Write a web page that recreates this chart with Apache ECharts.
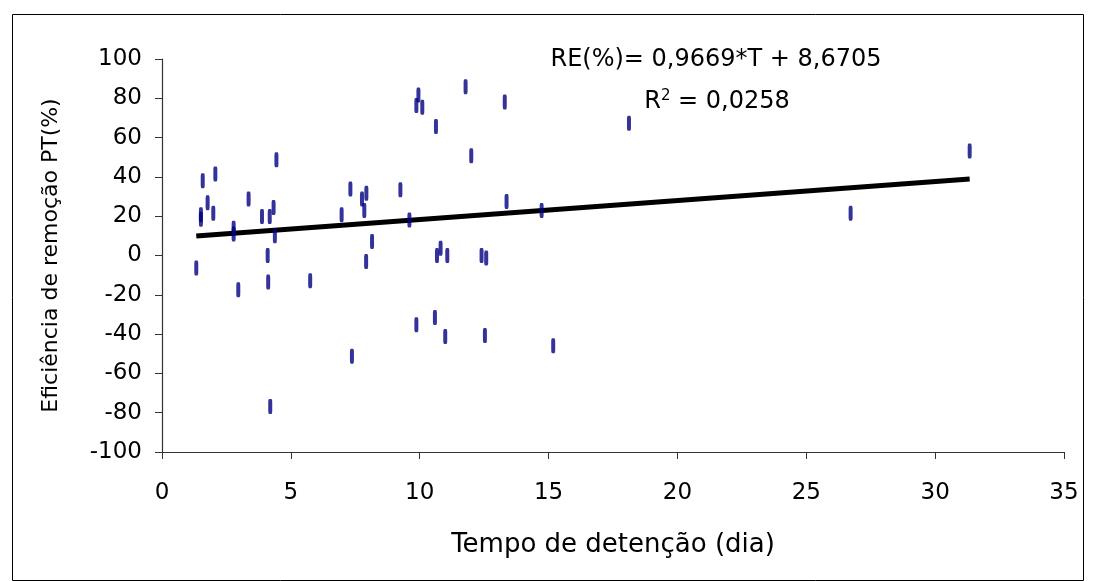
<!DOCTYPE html>
<html>
<head>
<meta charset="utf-8">
<script src="https://cdn.jsdelivr.net/npm/echarts@6/dist/echarts.min.js"></script>
<style>
html,body{margin:0;padding:0;background:#fff;}
#chart{width:1093px;height:581px;}
</style>
</head>
<body>
<div id="chart"></div>
<script>
// Tempo de detenção (dia)
const tempo = [1.33,1.51,1.51,1.58,1.77,1.99,2.07,2.78,2.78,2.96,3.36,3.88,4.10,4.12,4.18,4.20,4.33,4.38,4.44,5.75,6.97,7.31,7.37,7.76,7.85,7.92,7.93,8.15,9.25,9.60,9.87,9.87,9.95,10.10,10.59,10.63,10.67,10.81,10.99,11.07,11.78,12.00,12.40,12.53,12.58,13.30,13.37,14.73,15.18,18.12,26.72,31.34];
// Eficiência de remoção PT (%)
const eficiencia = [-6.4,20.7,18.5,38.1,26.9,21.5,41.5,13.9,11.0,-17.4,28.8,19.8,0.0,-13.5,19.8,-76.8,24.4,10.0,48.7,-12.9,20.7,33.8,-51.3,28.7,22.9,-3.0,31.7,7.1,33.4,18.1,76.3,-35.2,81.7,75.4,-31.5,65.6,0.0,3.7,-41.2,0.0,85.9,50.7,0.0,-40.7,-1.3,78.1,27.5,22.9,-45.9,67.3,21.5,53.2];
// Trend line coefficients (from equation)
const slope = 0.9669;
const intercept = 8.6705;
const xTicks = {min: 0, max: 35, interval: 5};
const yTicks = {min: -100, max: 100, interval: 20};
const eqText = 'RE(%)= 0,9669*T + 8,6705';
const r2Text = '0,0258';

const points = tempo.map((t, i) => [t, eficiencia[i]]);
const xMin = Math.min(...tempo), xMax = Math.max(...tempo);
const trend = [[xMin, slope * xMin + intercept], [xMax, slope * xMax + intercept]];

const chart = echarts.init(document.getElementById('chart'), null, {renderer: 'canvas'});
const font = 'DejaVu Sans, Verdana, sans-serif';
chart.setOption({
  animation: false,
  backgroundColor: '#ffffff',
  grid: {left: 162, right: 29, top: 59, bottom: 129, containLabel: false},
  xAxis: {
    type: 'value', min: xTicks.min, max: xTicks.max, interval: xTicks.interval,
    name: 'Tempo de detenção (dia)', nameLocation: 'middle', nameGap: 80,
    nameTextStyle: {fontFamily: font, fontSize: 26, color: '#000'},
    axisLine: {show: true, onZero: false, lineStyle: {color: '#333', width: 1.2}},
    axisTick: {show: true, inside: false, length: 7, lineStyle: {color: '#333'}},
    axisLabel: {fontFamily: font, fontSize: 23, color: '#000', margin: 30},
    splitLine: {show: false}
  },
  yAxis: {
    type: 'value', min: yTicks.min, max: yTicks.max, interval: yTicks.interval,
    name: 'Eficiência de remoção PT(%)', nameLocation: 'middle', nameGap: 100,
    nameTextStyle: {fontFamily: font, fontSize: 22, color: '#000'},
    axisLine: {show: true, onZero: false, lineStyle: {color: '#333', width: 1.2}},
    axisTick: {show: true, inside: false, length: 7, lineStyle: {color: '#333'}},
    axisLabel: {fontFamily: font, fontSize: 23, color: '#000', margin: 20},
    splitLine: {show: false}
  },
  graphic: [
    {type: 'rect', left: 10, top: 12, shape: {width: 1071, height: 566},
     style: {fill: 'none', stroke: '#000', lineWidth: 1}, z: -1},
    {type: 'text', x: 716, y: 60,
     style: {text: eqText, font: '24px ' + font, fill: '#000', align: 'center', verticalAlign: 'middle'}},
    {type: 'text', x: 717, y: 102,
     style: {
       text: '{r|R}{s|2}{r| = ' + r2Text + '}',
       align: 'center', verticalAlign: 'middle',
       rich: {
         r: {fontFamily: font, fontSize: 24, color: '#000'},
         s: {fontFamily: font, fontSize: 15, color: '#000', verticalAlign: 'top', padding: [0, 0, 12, 0]}
       }
     }}
  ],
  series: [
    {
      type: 'line', data: trend, showSymbol: false, symbol: 'none',
      lineStyle: {color: '#000', width: 5}, z: 2, silent: true
    },
    {
      type: 'scatter', data: points, symbol: 'roundRect', symbolSize: [4, 15],
      itemStyle: {color: '#000080'}, z: 3
    }
  ]
});
</script>
</body>
</html>
